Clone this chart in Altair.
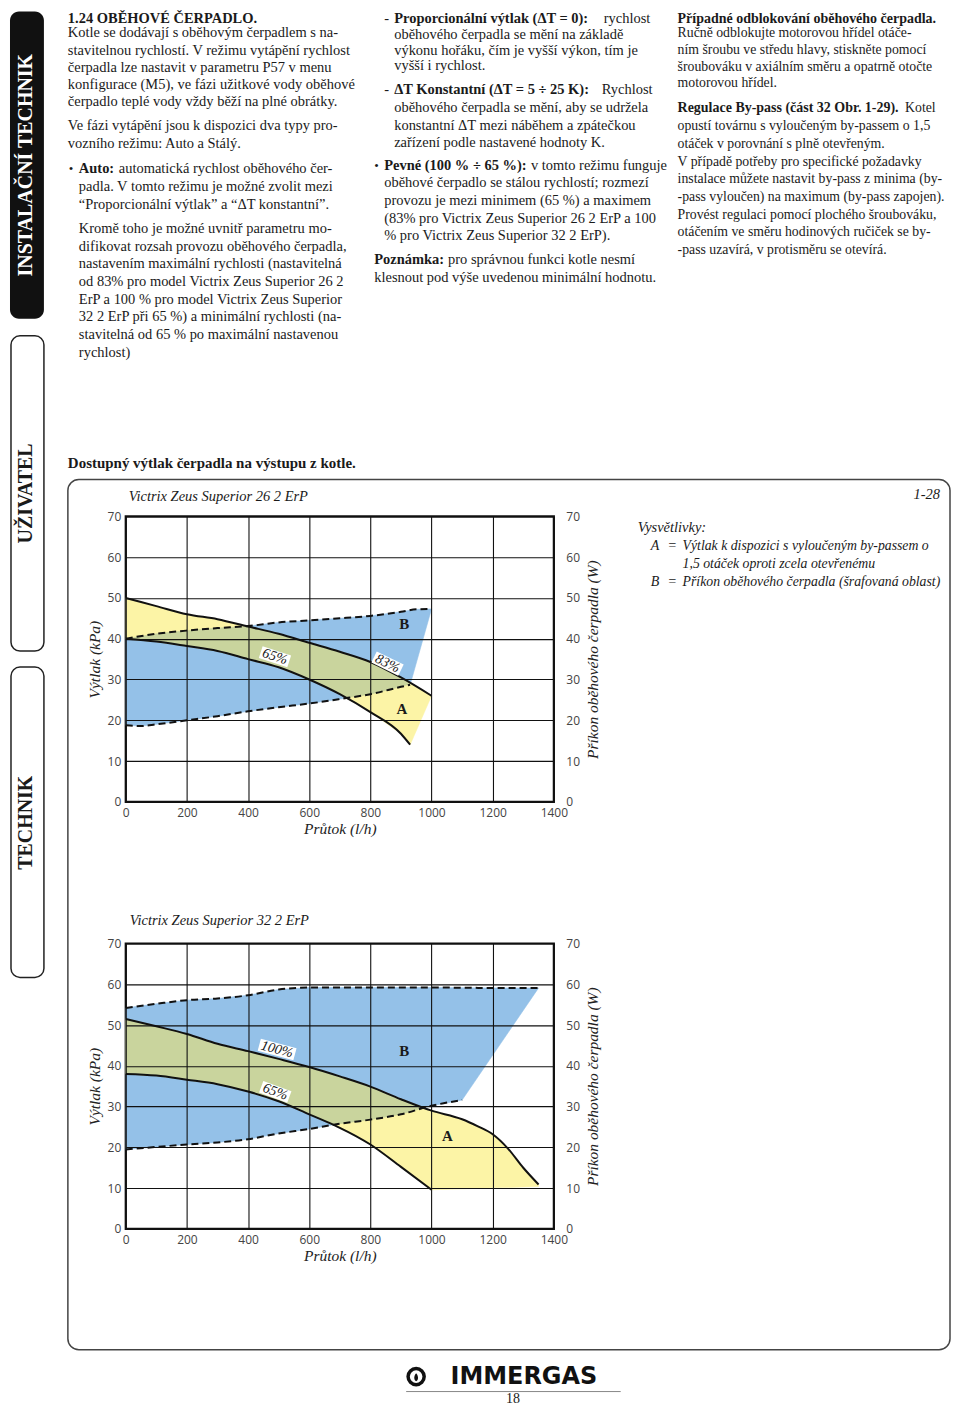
import altair as alt
import pandas as pd

# ---------------- data ----------------
X_TICKS = [0, 200, 400, 600, 800, 1000, 1200, 1400]
Y_TICKS = [0, 10, 20, 30, 40, 50, 60, 70]

# Victrix Zeus Superior 26 2 ErP  (flow l/h -> head kPa ; power W)
C1_Q83 = [0, 100, 200, 300, 400, 500, 600, 700, 800, 900, 1000]
C1_H83 = [50, 48, 46, 44.8, 43, 41.2, 39, 36.8, 34.3, 30.5, 26]
C1_Q65 = [0, 100, 200, 300, 400, 500, 600, 700, 800, 900, 930]
C1_H65 = [40, 39.3, 38.2, 37, 35, 33, 30, 26.4, 22, 16.7, 14]
C1_QPMIN = [0, 50, 100, 200, 300, 400, 500, 600, 700, 800, 900, 930]
C1_PMIN = [18.8, 18.6, 19.0, 20, 21, 22.2, 23.2, 24.1, 25.2, 26.4, 28.2, 28.7]
C1_QPMAX = [0, 100, 200, 300, 400, 500, 600, 700, 800, 900, 950, 1000]
C1_PMAX = [40, 41.2, 42, 42.6, 43.1, 44, 44.5, 45, 45.6, 46.6, 47.2, 47.3]
C1_GQ = [0, 100, 200, 300, 400, 500, 600, 700, 800, 900, 928,
         900, 800, 721, 700, 600, 500, 400, 300, 200, 100, 0]
C1_GH = [40, 41.2, 42, 42.6, 43.05, 41.2, 39, 36.8, 34.3, 30.5, 28.9,
         28.2, 26.4, 25.5, 26.4, 30, 33, 35, 37, 38.2, 39.3, 40]
C1_LABELS = ["65%", "83%"]
C1_LABEL_Q = [488, 856]
C1_LABEL_H = [35.6, 33.9]
C1_ZONES = ["B", "A"]
C1_ZONE_Q = [911, 903]
C1_ZONE_H = [43.6, 22.8]

# Victrix Zeus Superior 32 2 ErP
C2_Q100 = [0, 100, 200, 300, 400, 500, 600, 700, 800, 900, 1000, 1100, 1150, 1200, 1250, 1300, 1350]
C2_H100 = [51.5, 49.7, 47.8, 45.4, 43.6, 41.7, 39.7, 37.4, 34.9, 31.8, 29.0, 26.9, 25.2, 23.2, 19.7, 15.0, 10.9]
C2_Q65 = [0, 100, 200, 300, 400, 500, 600, 680, 700, 800, 900, 1000]
C2_H65 = [38, 37.6, 36.6, 35.5, 33.7, 31.3, 28.1, 25.5, 24.8, 20.7, 15.2, 9.6]
C2_QPMIN = [0, 100, 200, 300, 400, 500, 600, 700, 800, 900, 1000, 1100]
C2_PMIN = [19.5, 20.1, 20.7, 21.2, 22.0, 23.4, 24.5, 25.8, 26.8, 28.1, 30.2, 31.6]
C2_QPMAX = [0, 100, 200, 300, 400, 500, 600, 800, 1000, 1200, 1350]
C2_PMAX = [54.2, 55.2, 56.1, 56.5, 57.3, 58.7, 59.2, 59.2, 59.2, 59.1, 59.1]
C2_ABOT_Q = [1350]
C2_ABOT_H = [10.4]
C2_GQ = [0, 100, 200, 300, 400, 500, 600, 700, 800, 900, 975,
         900, 800, 700, 680, 600, 500, 400, 300, 200, 100, 0]
C2_GH = [51.5, 49.7, 47.8, 45.4, 43.6, 41.7, 39.7, 37.4, 34.9, 31.8, 29.7,
         28.1, 26.8, 25.8, 25.5, 28.1, 31.3, 33.7, 35.5, 36.6, 37.6, 38]
C2_LABELS = ["100%", "65%"]
C2_LABEL_Q = [495, 489]
C2_LABEL_H = [44.0, 33.6]
C2_ZONES = ["B", "A"]
C2_ZONE_Q = [911, 1052]
C2_ZONE_H = [43.6, 22.9]

# ---------------- styles ----------------
BLUE = "#94c1e8"
YELLOW = "#fcf4a6"
GREEN = "#c9d49d"
SERIF = "Liberation Serif"
SANS = "Open Sans"
INK = "#1a1a1a"
PW, PH = 429, 286
O1 = (124, 514)   # page position of plot 1 origin
O2 = (124, 942)   # page position of plot 2 origin
C1_ANGLES = [18, 26]
C2_ANGLES = [15, 20]
C1_HALFW = [1.5, 1.5]
C2_HALFW = [1.85, 1.5]

ONE = pd.DataFrame({"k": [0]})


def xenc():
    return alt.X("q:Q", scale=alt.Scale(domain=[0, 1400], nice=False, zero=False),
                 axis=alt.Axis(values=X_TICKS, format="d", grid=True, gridColor="#111", gridWidth=1.1,
                               gridOpacity=1, domain=False, ticks=False, labelFont=SANS, labelFontSize=12,
                               labelColor="#444", labelPadding=6, labelFlush=False, labelOverlap=False,
                               title="Průtok (l/h)", titleFont=SERIF, titleFontStyle="italic",
                               titleFontWeight="normal", titleFontSize=15.5, titleColor="#222",
                               titlePadding=3, zindex=1))


def yenc():
    return alt.Y("h:Q", scale=alt.Scale(domain=[0, 70], nice=False, zero=False),
                 axis=alt.Axis(values=Y_TICKS, format="d", grid=True, gridColor="#111", gridWidth=1.1,
                               gridOpacity=1, domain=False, ticks=False, labelFont=SANS, labelFontSize=12,
                               labelColor="#444", labelPadding=5, labelFlush=False, labelOverlap=False,
                               title="Výtlak (kPa)", titleFont=SERIF, titleFontStyle="italic",
                               titleFontWeight="normal", titleFontSize=15.5, titleColor="#222",
                               titlePadding=5, zindex=1, orient="left"))


def wenc():
    return alt.Y("w:Q", scale=alt.Scale(domain=[0, 70], nice=False, zero=False),
                 axis=alt.Axis(values=Y_TICKS, format="d", grid=False, domain=False, ticks=False,
                               labelFont=SANS, labelFontSize=12, labelColor="#444", labelPadding=12,
                               labelFlush=False, labelOverlap=False,
                               title="Příkon oběhového čerpadla (W)", titleFont=SERIF,
                               titleFontStyle="italic", titleFontWeight="normal", titleFontSize=15.5,
                               titleColor="#222", titlePadding=6, titleAngle=270, titleBaseline="top",
                               orient="right"))


def polygon(qs, hs, color):
    df = pd.DataFrame({"q": qs, "h": hs, "i": list(range(len(qs)))})
    return alt.Chart(df).mark_line(fill=color, color=color, strokeWidth=0.6, interpolate="linear").encode(
        x=xenc(), y=yenc(), order=alt.Order("i:Q"))


def curve(qs, hs):
    df = pd.DataFrame({"q": qs, "h": hs})
    return alt.Chart(df).mark_line(color="#111", strokeWidth=2, interpolate="monotone").encode(
        x=xenc(), y=yenc())


def dashed(qs, ws):
    df = pd.DataFrame({"q": qs, "w": ws})
    return alt.Chart(df).mark_line(color="#111", strokeWidth=2, strokeDash=[7, 4],
                                   interpolate="monotone").encode(x=xenc(), y=wenc())


def curve_label(text, q, h, angle, halfw):
    df = pd.DataFrame({"q": [q], "h": [h], "t": [text]})
    shape = f"M-{halfw},-0.62H{halfw}V0.62H-{halfw}Z"
    bx = alt.Chart(df).mark_point(shape=shape, size=400, filled=True, color="white", opacity=1,
                                  strokeWidth=0, angle=angle).encode(x=xenc(), y=yenc())
    tx = alt.Chart(df).mark_text(angle=angle, font=SERIF, fontSize=14, fontStyle="italic",
                                 color=INK).encode(x=xenc(), y=yenc(), text="t:N")
    return [bx, tx]


def zone_labels(names, qs, hs):
    df = pd.DataFrame({"q": qs, "h": hs, "t": names})
    return alt.Chart(df).mark_text(font=SERIF, fontSize=15, fontWeight="bold", color=INK).encode(
        x=xenc(), y=yenc(), text="t:N")


def txt(o, px, py, text, size=14.5, weight="normal", style="normal", align="left",
        color=INK, angle=0, lh=18, font=SERIF):
    kw = dict(text=text, font=font, fontSize=size, fontWeight=weight, fontStyle=style,
              align=align, baseline="middle", color=color, lineHeight=lh)
    if angle:
        kw["angle"] = angle
    return alt.Chart(ONE).mark_text(**kw).encode(x=alt.value(px - o[0]), y=alt.value(py - o[1]))


def rect(o, x1, y1, x2, y2, fill=None, stroke=None, sw=1.5, r=8):
    if fill:
        m = alt.Chart(ONE).mark_rect(color=fill, cornerRadius=r)
    else:
        m = alt.Chart(ONE).mark_rect(filled=False, color=stroke, strokeWidth=sw, cornerRadius=r)
    return m.encode(x=alt.value(x1 - o[0]), x2=alt.value(x2 - o[0]),
                    y=alt.value(y1 - o[1]), y2=alt.value(y2 - o[1]))


def hline(o, x1, x2, y, color="#777", sw=1):
    return alt.Chart(ONE).mark_rule(color=color, strokeWidth=sw).encode(
        x=alt.value(x1 - o[0]), x2=alt.value(x2 - o[0]), y=alt.value(y - o[1]))


def panel(qtop, htop, q65, h65, qmin, pmin, qmax, pmax, gq, gh, labels, lq, lh, angles, halfws,
          zones, zq, zh, extra_bottom_q=None, extra_bottom_h=None):
    blue = polygon(qmax + qmin[::-1], pmax + pmin[::-1], BLUE)
    ybq = qtop + (extra_bottom_q or []) + q65[::-1]
    ybh = htop + (extra_bottom_h or []) + h65[::-1]
    yellow = polygon(ybq, ybh, YELLOW)
    green = polygon(gq, gh, GREEN)
    layers = [blue, yellow, green, curve(qtop, htop), curve(q65, h65)]
    for t, q, h, a, hw in zip(labels, lq, lh, angles, halfws):
        layers += curve_label(t, q, h, a, hw)
    layers.append(zone_labels(zones, zq, zh))
    left = alt.layer(*layers)
    right = alt.layer(dashed(qmax, pmax), dashed(qmin, pmin))
    return left, right


# ---------------- panel 1 ----------------
left1, right1 = panel(C1_Q83, C1_H83, C1_Q65, C1_H65, C1_QPMIN, C1_PMIN, C1_QPMAX, C1_PMAX,
                      C1_GQ, C1_GH, C1_LABELS, C1_LABEL_Q, C1_LABEL_H, C1_ANGLES, C1_HALFW,
                      C1_ZONES, C1_ZONE_Q, C1_ZONE_H)

C3X = 677
deco1 = [
    # side tabs
    rect(O1, 8, 8, 42, 316, fill="#111", r=9),
    txt(O1, 24, 162, "INSTALAČNÍ TECHNIK", size=20, weight="bold", color="white", angle=270, align="center"),
    rect(O1, 9, 333, 42, 649, stroke="#222", sw=1.5, r=9),
    txt(O1, 24, 491, "UŽIVATEL", size=20, weight="bold", angle=270, align="center"),
    rect(O1, 9, 665, 42, 976, stroke="#222", sw=1.5, r=9),
    txt(O1, 24, 821, "TECHNIK", size=20, weight="bold", angle=270, align="center"),
    # column 1
    txt(O1, 66, 16, "1.24 OBĚHOVÉ ČERPADLO.", weight="bold"),
    txt(O1, 66, 30, ["Kotle se dodávají s oběhovým čerpadlem s na-",
                     "stavitelnou rychlostí. V režimu vytápění rychlost",
                     "čerpadla lze nastavit v parametru P57 v menu",
                     "konfigurace (M5), ve fázi užitkové vody oběhové",
                     "čerpadlo teplé vody vždy běží na plné obrátky."], lh=17.2),
    txt(O1, 66, 123, ["Ve fázi vytápění jsou k dispozici dva typy pro-",
                      "vozního režimu: Auto a Stálý."], lh=18),
    txt(O1, 67, 166, "•", size=13),
    txt(O1, 77, 166, "Auto:", weight="bold"),
    txt(O1, 117, 166, "automatická rychlost oběhového čer-"),
    txt(O1, 77, 184, ["padla. V tomto režimu je možné zvolit mezi",
                      "“Proporcionální výtlak” a “ΔT konstantní”."], lh=17.5),
    txt(O1, 77, 226, ["Kromě toho je možné uvnitř parametru mo-",
                      "difikovat rozsah provozu oběhového čerpadla,",
                      "nastavením maximální rychlosti (nastavitelná",
                      "od 83% pro model Victrix Zeus Superior 26 2",
                      "ErP a 100 % pro model Victrix Zeus Superior",
                      "32 2 ErP při 65 %) a  minimální rychlosti (na-",
                      "stavitelná od 65 % po maximální nastavenou",
                      "rychlost)"], lh=17.7),
    # column 2
    txt(O1, 383, 16, "-"),
    txt(O1, 393, 16, "Proporcionální výtlak (ΔT = 0):", weight="bold"),
    txt(O1, 603, 16, "rychlost"),
    txt(O1, 393, 31.7, ["oběhového čerpadla se mění na základě",
                        "výkonu hořáku, čím je vyšší výkon, tím je",
                        "vyšší i rychlost."], lh=15.7),
    txt(O1, 383, 87, "-"),
    txt(O1, 393, 87, "ΔT Konstantní (ΔT = 5 ÷ 25 K):", weight="bold"),
    txt(O1, 601, 87, "Rychlost"),
    txt(O1, 393, 105, ["oběhového čerpadla se mění, aby se udržela",
                       "konstantní ΔT mezi náběhem a zpátečkou",
                       "zařízení podle nastavené hodnoty K."], lh=17.6),
    txt(O1, 373, 163, "•", size=13),
    txt(O1, 383, 163, "Pevné (100 % ÷ 65 %):", weight="bold"),
    txt(O1, 530, 163, "v tomto režimu funguje"),
    txt(O1, 383, 180, ["oběhové čerpadlo se stálou rychlostí; rozmezí",
                       "provozu je mezi minimem (65 %) a maximem",
                       "(83% pro Victrix Zeus Superior 26 2 ErP a 100",
                       "% pro Victrix Zeus Superior 32 2 ErP)."], lh=17.8),
    txt(O1, 373, 257, "Poznámka:", weight="bold"),
    txt(O1, 447, 257, "pro správnou funkci kotle nesmí"),
    txt(O1, 373, 275, "klesnout pod výše uvedenou minimální hodnotu."),
    # column 3
    txt(O1, C3X, 16, "Případné odblokování oběhového čerpadla.", size=14, weight="bold"),
    txt(O1, C3X, 30, ["Ručně odblokujte motorovou hřídel otáče-",
                      "ním šroubu ve středu hlavy, stiskněte pomocí",
                      "šroubováku v axiálním směru a opatrně otočte",
                      "motorovou hřídel."], size=13.8, lh=16.7),
    txt(O1, C3X, 105, "Regulace By-pass (část 32 Obr. 1-29).", size=14, weight="bold"),
    txt(O1, 905, 105, "Kotel", size=13.8),
    txt(O1, C3X, 123, ["opustí továrnu s vyloučeným by-passem o 1,5",
                       "otáček v porovnání s plně otevřeným.",
                       "V případě potřeby pro specifické požadavky",
                       "instalace můžete nastavit by-pass z minima (by-",
                       "-pass vyloučen) na maximum (by-pass zapojen).",
                       "Provést regulaci pomocí plochého šroubováku,",
                       "otáčením ve směru hodinových ručiček se by-",
                       "-pass uzavírá, v protisměru se otevírá."], size=13.8, lh=17.7),
    # section heading and frame
    txt(O1, 66, 460, "Dostupný výtlak čerpadla na výstupu z kotle.", size=15, weight="bold"),
    rect(O1, 66, 477, 950, 1349, stroke="#444", sw=1.5, r=11),
    txt(O1, 127, 495, "Victrix Zeus Superior 26 2 ErP", size=14.5, style="italic"),
    # legend
    txt(O1, 940, 493, "1-28", size=14.5, style="italic", align="right"),
    txt(O1, 637, 526, "Vysvětlivky:", size=14.5, style="italic"),
    txt(O1, 650, 544, "A", size=14, style="italic"),
    txt(O1, 667, 544, "=", size=14, style="italic"),
    txt(O1, 682, 544, ["Výtlak k dispozici s vyloučeným by-passem o",
                       "1,5 otáček oproti zcela otevřenému"], size=13.8, style="italic", lh=18),
    txt(O1, 650, 580, "B", size=14, style="italic"),
    txt(O1, 667, 580, "=", size=14, style="italic"),
    txt(O1, 682, 580, "Příkon oběhového čerpadla (šrafovaná oblast)", size=13.8, style="italic"),
]

c1 = alt.layer(left1, right1, *deco1).resolve_scale(y="independent").properties(width=PW, height=PH)

# ---------------- panel 2 ----------------
left2, right2 = panel(C2_Q100, C2_H100, C2_Q65, C2_H65, C2_QPMIN, C2_PMIN, C2_QPMAX, C2_PMAX,
                      C2_GQ, C2_GH, C2_LABELS, C2_LABEL_Q, C2_LABEL_H, C2_ANGLES, C2_HALFW,
                      C2_ZONES, C2_ZONE_Q, C2_ZONE_H, C2_ABOT_Q, C2_ABOT_H)

deco2 = [
    txt(O2, 128, 919, "Victrix Zeus Superior 32 2 ErP", size=14.5, style="italic"),
    alt.Chart(ONE).mark_point(shape="circle", size=260, filled=False, color="#111", strokeWidth=3.5,
                              opacity=1).encode(x=alt.value(415 - O2[0]), y=alt.value(1376 - O2[1])),
    alt.Chart(ONE).mark_point(shape="M0,-0.9C0.55,-0.35 0.5,0.6 0,0.75C-0.5,0.6 -0.55,-0.35 0,-0.9Z",
                              size=90, filled=True, color="#111", opacity=1).encode(
        x=alt.value(415 - O2[0]), y=alt.value(1377 - O2[1])),
    txt(O2, 523, 1376, "IMMERGAS", size=24, weight="bold", font="DejaVu Sans", align="center", color="#111"),
    hline(O2, 405, 620, 1391, color="#888", sw=1),
    txt(O2, 512, 1398, "18", size=14, align="center"),
]

c2 = alt.layer(left2, right2, *deco2).resolve_scale(y="independent").properties(width=PW, height=PH)

chart = alt.vconcat(c1, c2, spacing=142, bounds="flush").properties(padding=0).configure_view(
    stroke="#111", strokeWidth=2.2)

chart.save("out.html", embed_options={"renderer": "svg", "actions": False})
